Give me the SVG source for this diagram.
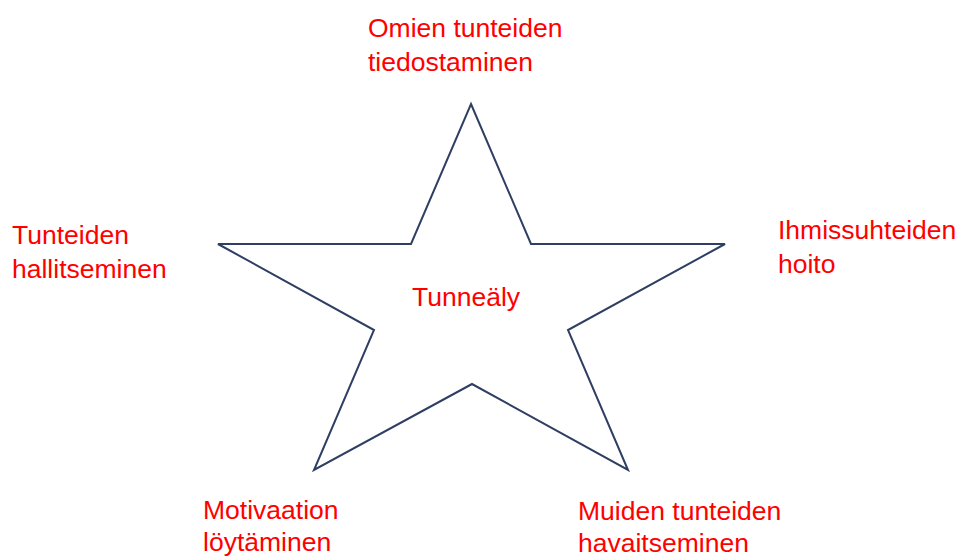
<svg xmlns="http://www.w3.org/2000/svg" width="957" height="559" viewBox="0 0 957 559">
<style>
.t{font-family:"Liberation Sans",Arial,sans-serif;font-size:26.5px;fill:#FF0000}
.star{fill:#FFFFFF;stroke:#2F3F63;stroke-width:2;stroke-linejoin:miter}
</style>
<rect width="957" height="559" fill="#FFFFFF"/>
<g id="star">
<polygon class="star" points="471,104 531,244 725,244 568,330 628,470 472,384 314,470 374,330 218,244 411,244"/>
<text class="t" x="412" y="306">Tunneäly</text>
</g>
<g id="n-top"><text class="t" x="368" y="37">Omien tunteiden</text><text class="t" x="368" y="71">tiedostaminen</text></g>
<g id="n-left"><text class="t" x="12" y="244">Tunteiden</text><text class="t" x="12" y="278">hallitseminen</text></g>
<g id="n-right"><text class="t" x="778" y="239">Ihmissuhteiden</text><text class="t" x="778" y="273">hoito</text></g>
<g id="n-bl"><text class="t" x="203" y="519">Motivaation</text><text class="t" x="203" y="551">löytäminen</text></g>
<g id="n-br"><text class="t" x="578" y="520">Muiden tunteiden</text><text class="t" x="578" y="552">havaitseminen</text></g>
<g id="connectors"></g>
</svg>
